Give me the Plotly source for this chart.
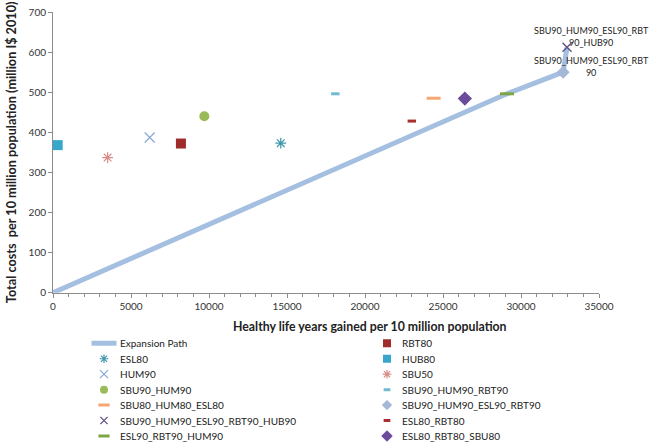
import plotly.graph_objects as go

# ---- data ----
series_names = [
    "RBT80", "ESL80", "HUB80", "HUM90", "SBU50", "SBU90_HUM90",
    "SBU90_HUM90_RBT90", "SBU80_HUM80_ESL80", "SBU90_HUM90_ESL90_RBT90",
    "SBU90_HUM90_ESL90_RBT90_HUB90", "ESL80_RBT80", "ESL90_RBT90_HUM90",
    "ESL80_RBT80_SBU80",
]
hly_gained = [8200, 14600, 300, 6200, 3500, 9700, 18100, 24400, 32700, 32950, 23000, 29100, 26400]
total_costs = [372, 373, 368, 387, 337, 440, 496, 485, 550, 612, 428, 496, 484]

path_name = "Expansion Path"
path_x = [0, 29100, 32700, 32950]
path_y = [0, 496, 550, 612]

x_ticks = [0, 5000, 10000, 15000, 20000, 25000, 30000, 35000]
y_ticks = [0, 100, 200, 300, 400, 500, 600, 700]
x_max, y_max = 35000, 700

# ---- styles ----
styles = {
    "RBT80": dict(symbol="square", color="#A02B2B", size=10),
    "ESL80": dict(symbol="asterisk-open", color="#3F97AD", size=9),
    "HUB80": dict(symbol="square", color="#35A8CC", size=10),
    "HUM90": dict(symbol="x-thin-open", color="#8AA8D4", size=10),
    "SBU50": dict(symbol="asterisk-open", color="#D98C8A", size=9),
    "SBU90_HUM90": dict(symbol="circle", color="#9BBB59", size=10),
    "SBU90_HUM90_RBT90": dict(symbol="line-ew-open", color="#6FBCD0", size=6),
    "SBU80_HUM80_ESL80": dict(symbol="line-ew-open", color="#F5A672", size=10),
    "SBU90_HUM90_ESL90_RBT90": dict(symbol="diamond", color="#A6B8D8", size=10),
    "SBU90_HUM90_ESL90_RBT90_HUB90": dict(symbol="x-thin-open", color="#5A4A80", size=9),
    "ESL80_RBT80": dict(symbol="line-ew-open", color="#A8302E", size=6),
    "ESL90_RBT90_HUM90": dict(symbol="line-ew-open", color="#7FA644", size=10),
    "ESL80_RBT80_SBU80": dict(symbol="diamond", color="#6B4C9A", size=11),
}
path_color = "#A5BFE0"

FONT = "Lato"
TXT = "#222222"
W, H = 659, 443
ML, MR, MT, MB = 53, 60, 12, 0
PH = H - MT - MB
plot_bottom_px = 292.7
main_dom0 = (H - plot_bottom_px) / PH


def marker_of(st, scale=1.0):
    m = dict(symbol=st["symbol"], size=st["size"] * scale, color=st["color"])
    if st["symbol"].endswith("open"):
        lw = 3 if st["symbol"].startswith("line") else 1.2
        m["line"] = dict(color=st["color"], width=lw)
    return m


fig = go.Figure()

# expansion path
fig.add_trace(go.Scatter(x=path_x, y=path_y, mode="lines", name=path_name,
                         line=dict(color=path_color, width=5), showlegend=False))

# scenario points
for i, name in enumerate(series_names):
    fig.add_trace(go.Scatter(x=[hly_gained[i]], y=[total_costs[i]], mode="markers", name=name,
                             marker=marker_of(styles[name]), cliponaxis=False, showlegend=False))

# ---- legend (two columns, Excel style) drawn on a helper axis in pixel-like units ----
legend_names = [path_name] + series_names
sym_x = [104, 387]
txt_x = [118, 400]
for k, name in enumerate(legend_names):
    col, row = k % 2, k // 2
    if name == path_name:
        fig.add_trace(go.Scatter(x=[sym_x[col] - 12.5, sym_x[col] + 12.5], y=[row, row],
                                 mode="lines", line=dict(color=path_color, width=5),
                                 xaxis="x2", yaxis="y2", showlegend=False, hoverinfo="skip"))
    else:
        fig.add_trace(go.Scatter(x=[sym_x[col]], y=[row], mode="markers",
                                 marker=marker_of(styles[name], 0.8),
                                 xaxis="x2", yaxis="y2", showlegend=False, hoverinfo="skip"))
    fig.add_annotation(x=txt_x[col], y=row, xref="x2", yref="y2", text=name,
                       showarrow=False, xanchor="left", yanchor="middle",
                       font=dict(family=FONT, size=10, color=TXT))


# ---- data labels (paper coordinates derived from the data values) ----
def to_paper(xv, yv):
    return xv / x_max, main_dom0 + (yv / y_max) * (1 - main_dom0)


lbl_font = dict(family=FONT, size=9, color=TXT)
i_top = series_names.index("SBU90_HUM90_ESL90_RBT90_HUB90")
i_bot = series_names.index("SBU90_HUM90_ESL90_RBT90")
px_, py_ = to_paper(hly_gained[i_top], total_costs[i_top])
fig.add_annotation(x=px_, y=py_, xref="paper", yref="paper",
                   text="SBU90_HUM90_ESL90_RBT<br>90_HUB90", showarrow=False,
                   xanchor="center", yanchor="middle",
                   xshift=24, yshift=11, font=lbl_font)
px_, py_ = to_paper(hly_gained[i_bot], total_costs[i_bot])
fig.add_annotation(x=px_, y=py_, xref="paper", yref="paper",
                   text="SBU90_HUM90_ESL90_RBT<br>90", showarrow=False,
                   xanchor="center", yanchor="middle",
                   xshift=28, yshift=6, font=lbl_font)

# x-axis title (centred as in the original, under the chart area)
fig.add_annotation(xref="paper", yref="paper", x=(369.5 - ML) / (W - ML - MR),
                   y=(H - 326) / PH,
                   text="<b>Healthy life years gained per 10 million population</b>",
                   showarrow=False, font=dict(family=FONT, size=12.3, color=TXT),
                   xanchor="center", yanchor="middle")

axis_common = dict(showgrid=False, zeroline=False, showline=True, linecolor="#8C8C8C",
                   linewidth=1, ticks="outside", tickcolor="#8C8C8C", ticklen=4,
                   automargin=False,
                   tickfont=dict(family=FONT, size=10, color="#333333"))

row_px0, row_step = 343.3, 15.45
leg_dom_top = 0.25
leg_top_px = H - leg_dom_top * PH
r_top = (leg_top_px - row_px0) / row_step
r_bot = (H - row_px0) / row_step

fig.update_layout(
    width=W, height=H,
    margin=dict(l=ML, r=MR, t=MT, b=MB, autoexpand=False),
    plot_bgcolor="white", paper_bgcolor="white",
    showlegend=False,
    xaxis=dict(range=[0, x_max], tickvals=x_ticks, ticktext=[str(v) for v in x_ticks],
               anchor="y",
               minor=dict(dtick=1000, ticks="outside", ticklen=3, tickcolor="#8C8C8C"),
               **axis_common),
    yaxis=dict(range=[0, y_max], tickvals=y_ticks, ticktext=[str(v) for v in y_ticks],
               domain=[main_dom0, 1], anchor="x",
               title=dict(text="<b>Total costs  per 10 million population (million I$ 2010)</b>",
                          font=dict(family=FONT, size=12.7, color=TXT), standoff=9),
               **axis_common),
    xaxis2=dict(domain=[0, 1], range=[ML, W - MR], visible=False, anchor="y2",
                fixedrange=True),
    yaxis2=dict(domain=[0, leg_dom_top], range=[r_bot, r_top], visible=False, anchor="x2",
                fixedrange=True),
)

fig.write_html("out.html", config={"displayModeBar": False},
               post_script="document.body.style.margin='0';")
